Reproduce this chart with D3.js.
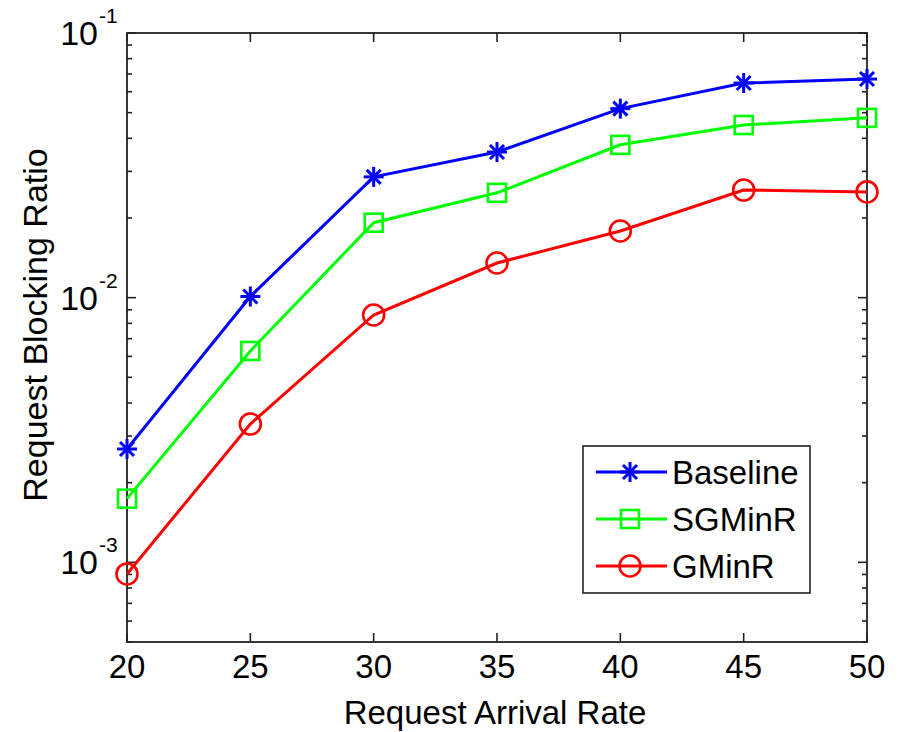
<!DOCTYPE html>
<html>
<head>
<meta charset="utf-8">
<script src="https://cdn.jsdelivr.net/npm/d3@7"></script>
<style>
  body { margin: 0; background: #fff; }
  text { font-family: "Liberation Sans", Arial, sans-serif; fill: #000; }
</style>
</head>
<body>
<div class="wrapper"></div>
<script>
// chart values
const rates = [20, 25, 30, 35, 40, 45, 50];
const baseline = [0.00268, 0.0101, 0.0286, 0.0355, 0.0518, 0.0647, 0.0670];
const sgminr = [0.00174, 0.00629, 0.0192, 0.0249, 0.0378, 0.0449, 0.0478];
const gminr = [0.000904, 0.00333, 0.0086, 0.01352, 0.01786, 0.0255, 0.0251];
const seriesNames = ["Baseline", "SGMinR", "GMinR"];
const seriesColors = ["#0000ff", "#00ff00", "#ff0000"];
const seriesMarkers = ["star", "square", "circle"];
const xTicks = [20, 25, 30, 35, 40, 45, 50];
const yMajor = [1e-3, 1e-2, 1e-1];
const yExp = ["-3", "-2", "-1"];

const width = 901, height = 732;
const plot = { left: 127, right: 867, top: 33, bottom: 642 };

const svg = d3.select(".wrapper").append("svg")
  .attr("width", width)
  .attr("height", height);

const x = d3.scaleLinear().domain([20, 50]).range([plot.left, plot.right]);
const y = d3.scaleLog().domain([5e-4, 1e-1]).range([plot.bottom, plot.top]);

// minor ticks for log axis
let yMinor = [];
[1e-4, 1e-3, 1e-2].forEach(dec => {
  for (let k = 2; k <= 9; k++) {
    const v = dec * k;
    if (v >= 5e-4 && v <= 1e-1 + 1e-12) yMinor.push(v);
  }
});

const axisColor = "#222";
const ax = svg.append("g").attr("class", "axes");

// box
ax.append("rect")
  .attr("x", plot.left).attr("y", plot.top)
  .attr("width", plot.right - plot.left)
  .attr("height", plot.bottom - plot.top)
  .attr("fill", "none").attr("stroke", axisColor).attr("stroke-width", 1.8);

// x ticks (bottom and top, inward)
xTicks.forEach(t => {
  ax.append("line").attr("x1", x(t)).attr("x2", x(t))
    .attr("y1", plot.bottom).attr("y2", plot.bottom - 9)
    .attr("stroke", axisColor).attr("stroke-width", 1.6);
  ax.append("line").attr("x1", x(t)).attr("x2", x(t))
    .attr("y1", plot.top).attr("y2", plot.top + 9)
    .attr("stroke", axisColor).attr("stroke-width", 1.6);
  ax.append("text")
    .attr("x", x(t)).attr("y", plot.bottom + 36)
    .attr("text-anchor", "middle")
    .style("font-size", "33px")
    .text(t);
});

// y ticks major + minor
yMajor.forEach((t, i) => {
  [[plot.left, plot.left + 9], [plot.right, plot.right - 9]].forEach(p => {
    ax.append("line").attr("x1", p[0]).attr("x2", p[1])
      .attr("y1", y(t)).attr("y2", y(t))
      .attr("stroke", axisColor).attr("stroke-width", 1.6);
  });
  ax.append("text")
    .attr("x", 98).attr("y", y(t) + 12)
    .attr("text-anchor", "end")
    .style("font-size", "34px")
    .text("10");
  ax.append("text")
    .attr("x", 99).attr("y", y(t) - 10)
    .style("font-size", "21px")
    .text(yExp[i]);
});
yMinor.forEach(t => {
  [[plot.left, plot.left + 5], [plot.right, plot.right - 5]].forEach(p => {
    ax.append("line").attr("x1", p[0]).attr("x2", p[1])
      .attr("y1", y(t)).attr("y2", y(t))
      .attr("stroke", axisColor).attr("stroke-width", 1.6);
  });
});

// axis titles
svg.append("text")
  .attr("x", (plot.left + plot.right) / 2 - 2)
  .attr("y", 724)
  .attr("text-anchor", "middle")
  .style("font-size", "33px")
  .text("Request Arrival Rate");

svg.append("text")
  .attr("transform", "translate(47," + 325 + ") rotate(-90)")
  .attr("text-anchor", "middle")
  .style("font-size", "34px")
  .text("Request Blocking Ratio");

// markers
function drawMarker(g, type, cx, cy, color) {
  if (type === "star") {
    const r = 10;
    const segs = [[0, -r, 0, r], [-r, 0, r, 0], [-r * 0.7, -r * 0.7, r * 0.7, r * 0.7], [-r * 0.7, r * 0.7, r * 0.7, -r * 0.7]];
    segs.forEach(s => {
      g.append("line")
        .attr("x1", cx + s[0]).attr("y1", cy + s[1])
        .attr("x2", cx + s[2]).attr("y2", cy + s[3])
        .attr("stroke", color).attr("stroke-width", 3);
    });
  } else if (type === "square") {
    g.append("rect")
      .attr("x", cx - 9).attr("y", cy - 9)
      .attr("width", 18).attr("height", 18)
      .attr("fill", "none").attr("stroke", color).attr("stroke-width", 2.6);
  } else {
    g.append("circle")
      .attr("cx", cx).attr("cy", cy).attr("r", 10.5)
      .attr("fill", "none").attr("stroke", color).attr("stroke-width", 2.6);
  }
}

const allSeries = [baseline, sgminr, gminr];
const line = d3.line().x((d, i) => x(rates[i])).y(d => y(d));

const lines = svg.append("g").attr("class", "series");
allSeries.forEach((vals, s) => {
  const g = lines.append("g");
  g.append("path")
    .datum(vals)
    .attr("d", line)
    .attr("fill", "none")
    .attr("stroke", seriesColors[s])
    .attr("stroke-width", 3);
  vals.forEach((v, i) => drawMarker(g, seriesMarkers[s], x(rates[i]), y(v), seriesColors[s]));
});

// legend
const leg = svg.append("g").attr("class", "legend");
leg.append("rect")
  .attr("x", 583).attr("y", 446)
  .attr("width", 227).attr("height", 147)
  .attr("fill", "#fff").attr("stroke", axisColor).attr("stroke-width", 1.6);
seriesNames.forEach((name, s) => {
  const ly = 472 + s * 47;
  leg.append("line")
    .attr("x1", 596).attr("x2", 667)
    .attr("y1", ly).attr("y2", ly)
    .attr("stroke", seriesColors[s]).attr("stroke-width", 3);
  drawMarker(leg, seriesMarkers[s], 630, ly, seriesColors[s]);
  leg.append("text")
    .attr("x", 672).attr("y", ly + 12)
    .style("font-size", "33px")
    .text(name);
});
</script>
</body>
</html>
